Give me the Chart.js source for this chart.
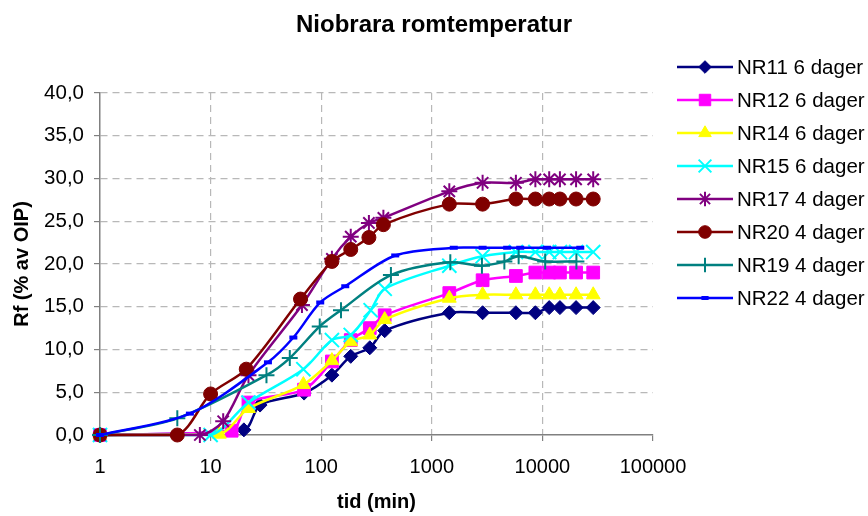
<!DOCTYPE html>
<html>
<head>
<meta charset="utf-8">
<script src="https://cdn.jsdelivr.net/npm/chart.js@4.4.0/dist/chart.umd.min.js"></script>
<style>
  html, body { margin: 0; padding: 0; background: #fff; }
</style>
</head>
<body>
<canvas id="rfChart" width="868" height="516"></canvas>
<script>
const chartTitle = "Niobrara romtemperatur";
const xTitle = "tid (min)";
const yTitle = "Rf (% av OIP)";
const xTicks = [1, 10, 100, 1000, 10000, 100000];

const seriesNames = [
  "NR11 6 dager", "NR12 6 dager", "NR14 6 dager", "NR15 6 dager",
  "NR17 4 dager", "NR20 4 dager", "NR19 4 dager", "NR22 4 dager",
];

// tid (min) og Rf (%) for hver prøve
const nr11Time = [1, 20, 28, 70, 125, 185, 275, 375, 1440, 2880, 5760, 8640, 11520, 14400, 20160, 28800];
const nr11Rf = [0, 0.6, 3.5, 4.9, 7.0, 9.2, 10.2, 12.2, 14.3, 14.3, 14.3, 14.3, 14.9, 14.9, 14.9, 14.9];

const nr12Time = [1, 15.5, 22, 70, 125, 185, 275, 375, 1440, 2880, 5760, 8640, 11520, 14400, 20160, 28800];
const nr12Rf = [0, 0.5, 3.8, 5.3, 8.6, 11.1, 12.5, 14.0, 16.6, 18.1, 18.6, 19.0, 19.0, 19.0, 19.0, 19.0];

const nr14Time = [1, 12, 22, 69, 125, 185, 275, 375, 1440, 2880, 5760, 8640, 11520, 14400, 20160, 28800];
const nr14Rf = [0, 0.1, 3.1, 5.9, 8.7, 10.9, 11.7, 13.5, 16.0, 16.4, 16.4, 16.4, 16.4, 16.4, 16.4, 16.4];

const nr15Time = [1, 10, 22, 69, 125, 185, 280, 375, 1440, 2880, 5760, 8640, 11520, 14400, 20160, 28800];
const nr15Rf = [0, 0, 3.8, 7.7, 11.1, 11.7, 14.6, 17.1, 19.8, 20.9, 21.4, 21.4, 21.4, 21.4, 21.4, 21.4];

const nr17Time = [1, 8, 13, 22, 67, 125, 185, 270, 365, 1440, 2880, 5760, 8640, 11520, 14400, 20160, 28800];
const nr17Rf = [0, 0, 1.6, 7.0, 15.2, 20.6, 23.2, 24.8, 25.4, 28.5, 29.5, 29.5, 29.9, 29.9, 29.9, 29.9, 29.9];

const nr20Time = [1, 5, 10, 21, 65, 125, 185, 270, 365, 1440, 2880, 5760, 8640, 11520, 14400, 20160, 28800];
const nr20Rf = [0, 0, 4.8, 7.7, 15.9, 20.3, 21.7, 23.1, 24.6, 27.0, 27.0, 27.6, 27.6, 27.6, 27.6, 27.6, 27.6];

const nr19Time = [1, 5, 32, 52, 97, 151, 427, 1470, 2840, 4530, 6100, 10600, 20300];
const nr19Rf = [0, 1.95, 7.0, 9.0, 12.7, 14.6, 18.7, 20.2, 19.8, 20.3, 20.9, 20.3, 20.3];

const nr22Time = [1, 6.5, 33, 56, 98, 165, 467, 1580, 2880, 4800, 6300, 11000, 22000];
const nr22Rf = [0, 2.5, 8.5, 11.4, 15.5, 17.4, 21.0, 21.9, 21.9, 21.9, 21.9, 21.9, 21.9];

const seriesTime = [nr11Time, nr12Time, nr14Time, nr15Time, nr17Time, nr20Time, nr19Time, nr22Time];
const seriesRf = [nr11Rf, nr12Rf, nr14Rf, nr15Rf, nr17Rf, nr20Rf, nr19Rf, nr22Rf];

// utseende
const seriesColors = ["#000080", "#FF00FF", "#FFFF00", "#00FFFF", "#800080", "#800000", "#008080", "#0000FF"];
const seriesMarkers = ["rectRot", "rect", "triangle", "crossRot", "star", "circle", "cross", "line"];
const markerRadius = [7, 9, 8, 10, 8, 7, 8, 4];
const markerBorder = [1, 1, 1, 2, 2, 1, 2, 4];
const fontFamily = "'Liberation Sans', Arial, sans-serif";

const datasets = seriesNames.map((name, i) => ({
  label: name,
  data: seriesTime[i].map((t, j) => ({ x: t, y: seriesRf[i][j] })),
  showLine: true,
  tension: 0.3,
  borderColor: seriesColors[i],
  backgroundColor: seriesColors[i],
  borderWidth: 2.5,
  pointStyle: seriesMarkers[i],
  pointRadius: markerRadius[i],
  pointBorderWidth: markerBorder[i],
  pointBackgroundColor: seriesColors[i],
  pointBorderColor: seriesColors[i],
  clip: false,
  order: seriesNames.length - i,
}));

const titleAndLegend = {
  id: "titleAndLegend",
  afterDraw(chart) {
    const ctx = chart.ctx;
    ctx.save();
    ctx.fillStyle = "#000";
    ctx.font = "bold 24px " + fontFamily;
    ctx.textAlign = "center";
    ctx.textBaseline = "middle";
    ctx.fillText(chartTitle, 434, 25);

    ctx.font = "20.5px " + fontFamily;
    ctx.textAlign = "left";
    seriesNames.forEach((name, i) => {
      const y = 67 + i * 33;
      ctx.strokeStyle = seriesColors[i];
      ctx.fillStyle = seriesColors[i];
      ctx.lineWidth = 2.5;
      ctx.beginPath();
      ctx.moveTo(677, y);
      ctx.lineTo(733, y);
      ctx.stroke();
      ctx.lineWidth = markerBorder[i];
      Chart.helpers.drawPoint(ctx, {
        pointStyle: seriesMarkers[i],
        radius: markerRadius[i] * 0.9,
        borderWidth: markerBorder[i],
        rotation: 0,
      }, 705, y);
      ctx.fillStyle = "#000";
      ctx.fillText(name, 737, y + 1);
    });
    ctx.restore();
  },
};

new Chart(document.getElementById("rfChart"), {
  type: "scatter",
  data: { datasets: datasets },
  plugins: [titleAndLegend],
  options: {
    responsive: false,
    animation: false,
    layout: { padding: { top: 93, right: 215, left: 0, bottom: 0 } },
    plugins: { legend: { display: false }, tooltip: { enabled: false } },
    scales: {
      x: {
        type: "logarithmic",
        min: 1,
        max: 100000,
        afterBuildTicks: (scale) => {
          scale.ticks = xTicks.map((v) => ({ value: v }));
        },
        afterFit: (scale) => { scale.height = 81; },
        ticks: {
          autoSkip: false,
          maxRotation: 0,
          color: "#000",
          padding: 14,
          font: { family: fontFamily, size: 20 },
          callback: (v) => String(v),
        },
        grid: {
          color: (c) => (c.tick && (c.tick.value === 1 || c.tick.value === 100000) ? "rgba(0,0,0,0)" : "#b8b8b8"),
          tickColor: "#808080",
          tickLength: 6,
          borderDash: [7, 5],
          tickBorderDash: [],
          lineWidth: 1.2,
        },
        border: { color: "#808080", width: 1.5, dash: [7, 5] },
        title: {
          display: true,
          text: xTitle,
          color: "#000",
          font: { family: fontFamily, size: 20, weight: "bold" },
          padding: { top: 4, bottom: 2 },
        },
      },
      y: {
        min: 0,
        max: 40,
        afterFit: (scale) => { scale.width = 100; },
        ticks: {
          stepSize: 5,
          color: "#000",
          padding: 10,
          font: { family: fontFamily, size: 20.5 },
          callback: (v) => v.toFixed(1).replace(".", ","),
        },
        grid: {
          color: (c) => (c.tick && c.tick.value === 0 ? "rgba(0,0,0,0)" : "#b8b8b8"),
          tickColor: "#808080",
          tickLength: 6,
          borderDash: [7, 5],
          tickBorderDash: [],
          lineWidth: 1.2,
        },
        border: { color: "#808080", width: 1.5, dash: [7, 5] },
        title: {
          display: true,
          text: yTitle,
          color: "#000",
          font: { family: fontFamily, size: 20, weight: "bold" },
          padding: { top: 10, bottom: 0 },
        },
      },
    },
  },
});
</script>
</body>
</html>
